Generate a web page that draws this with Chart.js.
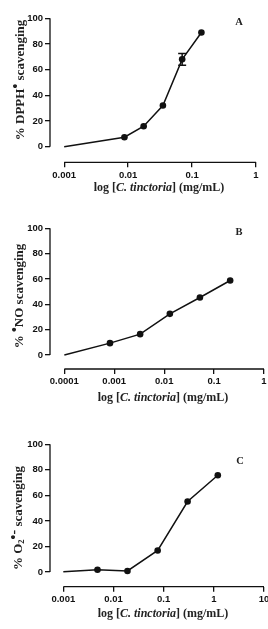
<!DOCTYPE html>
<html lang="en">
<head>
    <meta charset="UTF-8">
    <title>Scavenging activity of C. tinctoria</title>
    <script src="https://cdn.jsdelivr.net/npm/chart.js"></script>
    <style>
        body { margin: 0; background: #fff; }
        #wrap { position: relative; width: 268px; height: 629px; overflow: hidden; }
        .panel { position: absolute; left: 0; width: 268px; }
        .xtitle, .ytitle, .tag {
            position: absolute;
            font-family: "Liberation Serif", "Times New Roman", serif;
            font-weight: bold;
            color: #222;
            white-space: nowrap;
        }
        .xtitle { font-size: 12px; transform: translate(-50%, -50%); }
        .ytitle { font-size: 13px; transform: translate(-50%, -50%) rotate(-90deg); }
        .tag { font-size: 10.5px; transform: translate(-50%, -50%); }
        sup { font-size: 14px; line-height: 0; vertical-align: 4px; }
        sub { font-size: 8.5px; line-height: 0; vertical-align: -2px; }
    </style>
</head>
<body>
<div id="wrap">
    <div class="panel" style="top:0;height:200px"><canvas id="chartA" width="268" height="200"></canvas></div>
    <div class="panel" style="top:200px;height:210px"><canvas id="chartB" width="268" height="210"></canvas></div>
    <div class="panel" style="top:410px;height:219px"><canvas id="chartC" width="268" height="219"></canvas></div>

    <div class="ytitle" style="left:20px;top:80px">% DPPH<sup>&bull;</sup> scavenging</div>
    <div class="xtitle" style="left:159px;top:187px">log [<i>C. tinctoria</i>] (mg/mL)</div>
    <div class="tag" style="left:239px;top:21px">A</div>

    <div class="ytitle" style="left:19px;top:296px">% <sup>&bull;</sup>NO scavenging</div>
    <div class="xtitle" style="left:163px;top:397px">log [<i>C. tinctoria</i>] (mg/mL)</div>
    <div class="tag" style="left:239px;top:231px">B</div>

    <div class="ytitle" style="left:18px;top:518px">% O<sub>2</sub><sup>&bull;-</sup> scavenging</div>
    <div class="xtitle" style="left:163px;top:613px">log [<i>C. tinctoria</i>] (mg/mL)</div>
    <div class="tag" style="left:240px;top:460px">C</div>
</div>

<script>
    // A: DPPH radical
    const concA = [0.001, 0.00875, 0.0175, 0.035, 0.07, 0.14];
    const scavA = [0, 7.3, 15.9, 32, 68, 88.9];
    const errA  = [0, 0, 0, 0, 4.5, 0];
    const xTicksA = [0.001, 0.01, 0.1, 1];

    // B: nitric oxide
    const concB = [0.0001, 0.00082, 0.0033, 0.013, 0.052, 0.21];
    const scavB = [0, 9.4, 16.5, 32.5, 45.4, 58.8];
    const xTicksB = [0.0001, 0.001, 0.01, 0.1, 1];

    // C: superoxide
    const concC = [0.001, 0.0048, 0.019, 0.076, 0.3, 1.2];
    const scavC = [0.3, 1.8, 0.8, 16.9, 55.2, 75.8];
    const xTicksC = [0.001, 0.01, 0.1, 1, 10];

    const yTicks = [0, 20, 40, 60, 80, 100];

    const INK = '#111';
    const tickFont = { family: '"Liberation Sans", Arial, sans-serif', size: 9.5, weight: 'bold' };

    // axis lines only span the labelled range (Prism style, offset x axis)
    const axisLines = {
        id: 'axisLines',
        afterDraw(chart) {
            const { ctx, chartArea, scales } = chart;
            const xt = chart.options.xTickValues;
            ctx.save();
            ctx.strokeStyle = INK;
            ctx.lineWidth = 1.3;
            ctx.beginPath();
            ctx.moveTo(chartArea.left, scales.y.getPixelForValue(0));
            ctx.lineTo(chartArea.left, scales.y.getPixelForValue(100));
            ctx.moveTo(scales.x.getPixelForValue(xt[0]), chartArea.bottom);
            ctx.lineTo(scales.x.getPixelForValue(xt[xt.length - 1]), chartArea.bottom);
            ctx.stroke();
            ctx.restore();
        }
    };

    const errorBars = {
        id: 'errorBars',
        afterDatasetsDraw(chart) {
            const errs = chart.options.errors;
            if (!errs) return;
            const { ctx, scales } = chart;
            const pts = chart.data.datasets[0].data;
            ctx.save();
            ctx.strokeStyle = INK;
            ctx.lineWidth = 1.5;
            pts.forEach((p, i) => {
                if (!errs[i]) return;
                const x = scales.x.getPixelForValue(p.x);
                const top = scales.y.getPixelForValue(p.y + errs[i]);
                const bot = scales.y.getPixelForValue(p.y - errs[i]);
                ctx.beginPath();
                ctx.moveTo(x, top); ctx.lineTo(x, bot);
                ctx.moveTo(x - 4, top); ctx.lineTo(x + 4, top);
                ctx.moveTo(x - 4, bot); ctx.lineTo(x + 4, bot);
                ctx.stroke();
            });
            ctx.restore();
        }
    };

    function makeChart(id, xs, ys, errs, xTicks, box) {
        const h = document.getElementById(id).height;
        return new Chart(document.getElementById(id), {
            type: 'line',
            data: {
                datasets: [{
                    data: xs.map((x, i) => ({ x: x, y: ys[i] })),
                    borderColor: INK,
                    backgroundColor: INK,
                    borderWidth: 1.5,
                    pointRadius: xs.map((x, i) => i === 0 ? 0 : 3.3),
                    pointBorderWidth: 0,
                    tension: 0,
                    clip: false
                }]
            },
            options: {
                responsive: false,
                animation: false,
                xTickValues: xTicks,
                errors: errs,
                layout: { padding: { top: box.top, right: box.right, left: 0, bottom: 0 } },
                plugins: { legend: { display: false }, tooltip: { enabled: false } },
                scales: {
                    x: {
                        type: 'logarithmic',
                        min: box.xmin,
                        max: xTicks[xTicks.length - 1],
                        border: { display: false },
                        grid: { drawOnChartArea: false, drawTicks: true, tickLength: 5, color: INK, lineWidth: 1.3 },
                        ticks: {
                            font: tickFont, color: INK, padding: 2, maxRotation: 0, autoSkip: false,
                            callback: (v) => String(v)
                        },
                        afterBuildTicks: (s) => { s.ticks = xTicks.map(v => ({ value: v })); },
                        afterFit: (s) => { s.height = h - box.bottom; s.paddingLeft = 0; s.paddingRight = 0; }
                    },
                    y: {
                        min: box.ymin,
                        max: 100,
                        border: { display: false },
                        grid: { drawOnChartArea: false, drawTicks: true, tickLength: 5, color: INK, lineWidth: 1.3 },
                        ticks: { font: tickFont, color: INK, padding: 2 },
                        afterBuildTicks: (s) => { s.ticks = yTicks.map(v => ({ value: v })); },
                        afterFit: (s) => { s.width = 50; s.paddingTop = 0; s.paddingBottom = 0; }
                    }
                }
            },
            plugins: [axisLines, errorBars]
        });
    }

    makeChart('chartA', concA, scavA, errA, xTicksA, { top: 18.3, bottom: 162.3, right: 12, xmin: 0.00062, ymin: -12.2 });
    makeChart('chartB', concB, scavB, null, xTicksB, { top: 28.3, bottom: 169, right: 4, xmin: 0.0000516, ymin: -11 });
    makeChart('chartC', concC, scavC, null, xTicksC, { top: 34.3, bottom: 176.7, right: 4, xmin: 0.000543, ymin: -11.5 });
</script>
</body>
</html>
